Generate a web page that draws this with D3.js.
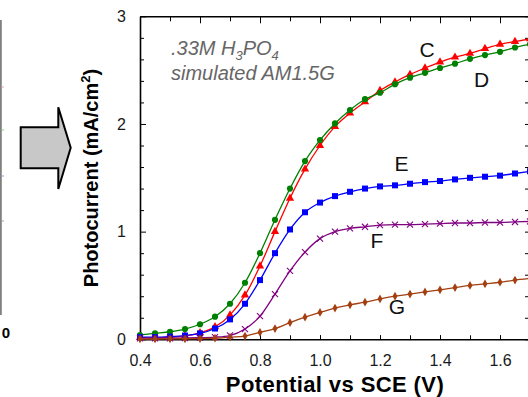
<!DOCTYPE html>
<html>
<head>
<meta charset="utf-8">
<script src="https://cdn.jsdelivr.net/npm/d3@7"></script>
<style>
  body { margin: 0; background: #fff; }
  svg { display: block; font-family: "Liberation Sans", Arial, sans-serif; }
</style>
</head>
<body>
<div id="chart"></div>
<script>
// potential (V vs SCE), one point every 0.05 V
var potential = [0.40, 0.45, 0.50, 0.55, 0.60, 0.65, 0.70, 0.75, 0.80, 0.85, 0.90, 0.95, 1.00,
    1.05, 1.10, 1.15, 1.20, 1.25, 1.30, 1.35, 1.40, 1.45, 1.50, 1.55, 1.60, 1.65, 1.70];

// photocurrent (mA/cm2)
var seriesC = [0.015, 0.015, 0.02, 0.03, 0.06, 0.115, 0.225, 0.41, 0.68, 1.00, 1.31, 1.58, 1.80,
    1.975, 2.10, 2.205, 2.31, 2.39, 2.46, 2.52, 2.575, 2.62, 2.655, 2.70, 2.74, 2.765, 2.79];
var seriesD = [0.04, 0.055, 0.07, 0.095, 0.14, 0.21, 0.33, 0.525, 0.80, 1.11, 1.40, 1.655, 1.85,
    2.005, 2.13, 2.23, 2.29, 2.37, 2.43, 2.475, 2.52, 2.56, 2.605, 2.64, 2.67, 2.71, 2.74];
var seriesE = [0.02, 0.02, 0.025, 0.035, 0.055, 0.10, 0.185, 0.33, 0.55, 0.80, 1.02, 1.18, 1.27,
    1.33, 1.37, 1.40, 1.42, 1.43, 1.445, 1.46, 1.47, 1.485, 1.50, 1.51, 1.52, 1.54, 1.56];
var seriesF = [0.01, 0.01, 0.01, 0.012, 0.015, 0.02, 0.035, 0.095, 0.215, 0.42, 0.635, 0.81, 0.935,
    1.00, 1.03, 1.045, 1.06, 1.065, 1.065, 1.07, 1.075, 1.08, 1.08, 1.085, 1.085, 1.09, 1.095];
var seriesG = [0.003, 0.003, 0.004, 0.005, 0.007, 0.01, 0.02, 0.03, 0.065, 0.10, 0.155, 0.205, 0.25,
    0.29, 0.32, 0.345, 0.375, 0.40, 0.42, 0.44, 0.46, 0.48, 0.50, 0.515, 0.53, 0.55, 0.565];

var seriesNames = ["C", "D", "E", "F", "G"];
// where each letter sits, in data units
var labelX = [1.357, 1.539, 1.272, 1.19, 1.256];
var labelY = [2.695, 2.417, 1.637, 0.922, 0.303];

var xTickLabels = [0.4, 0.6, 0.8, 1.0, 1.2, 1.4, 1.6];
var xMinorTicks = [0.4, 0.5, 0.6, 0.7, 0.8, 0.9, 1.0, 1.1, 1.2, 1.3, 1.4, 1.5, 1.6, 1.7];
var yTickLabels = [0, 1, 2, 3];
var yMinorTicks = [0.2, 0.4, 0.6, 0.8, 1.2, 1.4, 1.6, 1.8, 2.2, 2.4, 2.6, 2.8];

var width = 528, height = 397;
var margin = {top: 16.3, left: 140, right: 530, bottom: 339.3};

var svg = d3.select("#chart").append("svg")
    .attr("width", width)
    .attr("height", height);

var x = d3.scaleLinear().domain([0.4, 1.7]).range([margin.left, margin.right]);
var y = d3.scaleLinear().domain([0, 3]).range([margin.bottom, margin.top]);

// --- left-hand remains of the previous panel + the arrow ---
svg.append("line")
    .attr("x1", 0.8).attr("x2", 0.8)
    .attr("y1", 20).attr("y2", 315)
    .attr("stroke", "#808080")
    .attr("stroke-width", 2);

var stubMarks = [{y: 87, c: "#e8a0b8"}, {y: 130, c: "#90c890"}, {y: 176, c: "#a090d0"}, {y: 221, c: "#a0a0a0"}];
svg.selectAll(".stub")
    .data(stubMarks)
    .enter().append("line")
    .attr("x1", 1.5).attr("x2", 4)
    .attr("y1", d => d.y).attr("y2", d => d.y)
    .attr("stroke", d => d.c);

svg.append("text")
    .attr("x", 10)
    .attr("y", 338)
    .attr("text-anchor", "end")
    .style("font-size", "15px")
    .style("font-weight", "bold")
    .text("0");

var arrowPts = [[20.7, 127.3], [58.3, 127.3], [58.3, 107.3], [70.7, 147.8], [58.3, 189], [58.3, 168.3], [20.7, 168.3]];
svg.append("polygon")
    .attr("points", arrowPts.map(p => p.join(",")).join(" "))
    .attr("fill", "#c8c8c8")
    .attr("stroke", "#000")
    .attr("stroke-width", 2)
    .attr("stroke-linejoin", "miter");

// --- axes (ticks point inward on all four sides) ---
function styleAxis(g) {
    g.select(".domain").attr("stroke", "#000").attr("stroke-width", 1.6);
    g.selectAll(".tick line").attr("stroke", "#000").attr("stroke-width", 1);
    g.selectAll(".tick text").attr("fill", "#1a1a1a").style("font-size", "16px");
}

svg.append("g")
    .attr("transform", "translate(0," + margin.bottom + ")")
    .call(d3.axisBottom(x).tickValues(xMinorTicks).tickSize(-4).tickSizeOuter(0).tickFormat(""))
    .call(styleAxis);

svg.append("g")
    .attr("transform", "translate(0," + margin.bottom + ")")
    .call(d3.axisBottom(x).tickValues(xTickLabels).tickSize(-4).tickSizeOuter(0).tickPadding(15)
        .tickFormat(d3.format(".1f")))
    .call(styleAxis)
    .call(g => g.select(".domain").remove());

svg.append("g")
    .attr("transform", "translate(0," + margin.top + ")")
    .call(d3.axisTop(x).tickValues(xMinorTicks).tickSize(-5).tickSizeOuter(0).tickFormat(""))
    .call(styleAxis);

svg.append("g")
    .attr("transform", "translate(0," + margin.top + ")")
    .call(d3.axisTop(x).tickValues(xTickLabels).tickSize(-7).tickSizeOuter(0).tickFormat(""))
    .call(styleAxis)
    .call(g => g.select(".domain").remove());

svg.append("g")
    .attr("transform", "translate(" + margin.left + ",0)")
    .call(d3.axisLeft(y).tickValues(yMinorTicks).tickSize(-4).tickSizeOuter(0).tickFormat(""))
    .call(styleAxis);

svg.append("g")
    .attr("transform", "translate(" + margin.left + ",0)")
    .call(d3.axisLeft(y).tickValues(yTickLabels).tickSize(-6).tickSizeOuter(0).tickPadding(14)
        .tickFormat(d3.format("d")))
    .call(styleAxis)
    .call(g => g.select(".domain").remove());

svg.append("g")
    .attr("transform", "translate(" + margin.right + ",0)")
    .call(d3.axisRight(y).tickValues(yMinorTicks.concat(yTickLabels)).tickSize(-5).tickSizeOuter(0).tickFormat(""))
    .call(styleAxis);

// --- axis titles ---
svg.append("text")
    .attr("x", 335)
    .attr("y", 391.5)
    .attr("text-anchor", "middle")
    .style("font-size", "22px")
    .style("font-weight", "bold")
    .style("letter-spacing", "0.4px")
    .text("Potential vs SCE (V)");

var yTitle = svg.append("text")
    .attr("transform", "translate(98,178) rotate(-90)")
    .attr("text-anchor", "middle")
    .style("font-size", "20px")
    .style("font-weight", "bold");
yTitle.append("tspan").text("Photocurrent (mA/cm");
yTitle.append("tspan").attr("dy", -8).style("font-size", "13px").text("2");
yTitle.append("tspan").attr("dy", 8).text(")");

// --- annotation ---
var note = svg.append("g")
    .style("font-style", "italic")
    .style("font-size", "20px")
    .attr("fill", "#666");
var line1 = note.append("text").attr("x", 171).attr("y", 55);
line1.append("tspan").text(".33M H");
line1.append("tspan").attr("dy", 5).style("font-size", "13px").text("3");
line1.append("tspan").attr("dy", -5).text("PO");
line1.append("tspan").attr("dy", 5).style("font-size", "13px").text("4");
note.append("text").attr("x", 171).attr("y", 80).text("simulated AM1.5G");

// --- curves ---
var series = [
    {name: "C", values: seriesC, color: "#ff0000", symbol: d3.symbolTriangle, size: 30},
    {name: "D", values: seriesD, color: "#008000", symbol: d3.symbolCircle, size: 30},
    {name: "E", values: seriesE, color: "#0000ff", symbol: d3.symbolSquare, size: 36},
    {name: "F", values: seriesF, color: "#800080", symbol: d3.symbolTimes, size: 26},
    {name: "G", values: seriesG, color: "#a33f10", symbol: d3.symbolDiamond, size: 22}
];

var line = d3.line()
    .x((d, i) => x(potential[i]))
    .y(d => y(d))
    .curve(d3.curveMonotoneX);

var plot = svg.append("g");

series.forEach(function (s) {
    plot.append("path")
        .datum(s.values)
        .attr("fill", "none")
        .attr("stroke", s.color)
        .attr("stroke-width", 1.3)
        .attr("d", line);

    var isCross = s.symbol === d3.symbolTimes;
    plot.selectAll(".m" + s.name)
        .data(s.values)
        .enter().append("path")
        .attr("class", "m" + s.name)
        .attr("transform", (d, i) => "translate(" + x(potential[i]) + "," + y(d) + ")")
        .attr("d", d3.symbol().type(s.symbol).size(s.size))
        .attr("fill", isCross ? "none" : s.color)
        .attr("stroke", isCross ? s.color : "none")
        .attr("stroke-width", 1.1);
});

// --- series letters ---
svg.selectAll(".series-label")
    .data(seriesNames)
    .enter().append("text")
    .attr("class", "series-label")
    .attr("x", (d, i) => x(labelX[i]))
    .attr("y", (d, i) => y(labelY[i]))
    .attr("dy", "0.36em")
    .attr("text-anchor", "middle")
    .style("font-size", "21px")
    .attr("fill", "#111")
    .text(d => d);
</script>
</body>
</html>
